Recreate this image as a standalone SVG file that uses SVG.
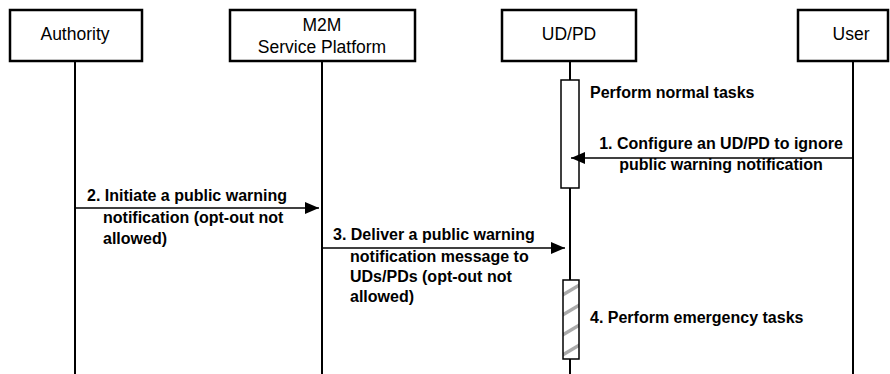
<svg xmlns="http://www.w3.org/2000/svg" width="890" height="374" viewBox="0 0 890 374">
<style>
.box{fill:#fff;stroke:#000;stroke-width:2.5}
.life{stroke:#000;stroke-width:2;fill:none}
.msg{stroke:#000;stroke-width:1.5;fill:none;marker-end:url(#ah)}
.hd{font-family:"Liberation Sans",Arial,sans-serif;font-size:17.5px;fill:#000;text-anchor:middle}
.lb{font-family:"Liberation Sans",Arial,sans-serif;font-size:16px;font-weight:bold;fill:#000}
.act{stroke:#000;stroke-width:1.5}
</style>
<defs>
<marker id="ah" viewBox="0 0 14 12" refX="14" refY="6" markerWidth="14" markerHeight="12" markerUnits="userSpaceOnUse" orient="auto">
<path d="M0,0 L14,6 L0,12 z" fill="#000"/>
</marker>
<pattern id="hatch" width="16" height="20" patternUnits="userSpaceOnUse" patternTransform="translate(563,280)">
<rect width="16" height="20" fill="#fff"/>
<path d="M-2,16 L18,4" stroke="#aaa" stroke-width="3.5"/>
</pattern>
</defs>
<g id="lifelines">
<line class="life" x1="75" y1="61" x2="75" y2="374"/>
<line class="life" x1="322" y1="61" x2="322" y2="374"/>
<line class="life" x1="570" y1="61" x2="570" y2="374"/>
<line class="life" x1="853" y1="61" x2="853" y2="374"/>
</g>
<g id="authority">
<rect class="box" x="10" y="10" width="132" height="51"/>
<text class="hd" x="75" y="40">Authority</text>
</g>
<g id="m2m">
<rect class="box" x="230" y="10" width="185" height="51"/>
<text class="hd" x="322" y="31">M2M</text>
<text class="hd" x="322" y="53">Service Platform</text>
</g>
<g id="udpd">
<rect class="box" x="502" y="10" width="134" height="51"/>
<text class="hd" x="569" y="40">UD/PD</text>
</g>
<g id="user">
<rect class="box" x="798" y="10" width="90" height="51"/>
<text class="hd" x="851" y="40">User</text>
</g>
<g id="act-normal">
<rect class="act" x="561" y="80" width="18" height="108" fill="#fff"/>
<text class="lb" x="590" y="98">Perform normal tasks</text>
</g>
<g id="act-emergency">
<rect class="act" x="563" y="280" width="16" height="79" fill="url(#hatch)"/>
<text class="lb" x="590" y="323">4. Perform emergency tasks</text>
</g>
<g id="connectors">
<line class="msg" x1="853" y1="158" x2="571" y2="158"/>
<line class="msg" x1="75" y1="208" x2="319" y2="208"/>
<line class="msg" x1="322" y1="248" x2="565" y2="248"/>
</g>
<g id="labels">
<text class="lb" x="721" y="149" text-anchor="middle">1. Configure an UD/PD to ignore</text>
<text class="lb" x="721" y="170" text-anchor="middle">public warning notification</text>
<text class="lb" x="87" y="201">2. Initiate a public warning</text>
<text class="lb" x="103" y="223">notification (opt-out not</text>
<text class="lb" x="103" y="244">allowed)</text>
<text class="lb" x="333" y="240">3. Deliver a public warning</text>
<text class="lb" x="350" y="262">notification message to</text>
<text class="lb" x="350" y="282">UDs/PDs (opt-out not</text>
<text class="lb" x="350" y="302">allowed)</text>
</g>
</svg>
